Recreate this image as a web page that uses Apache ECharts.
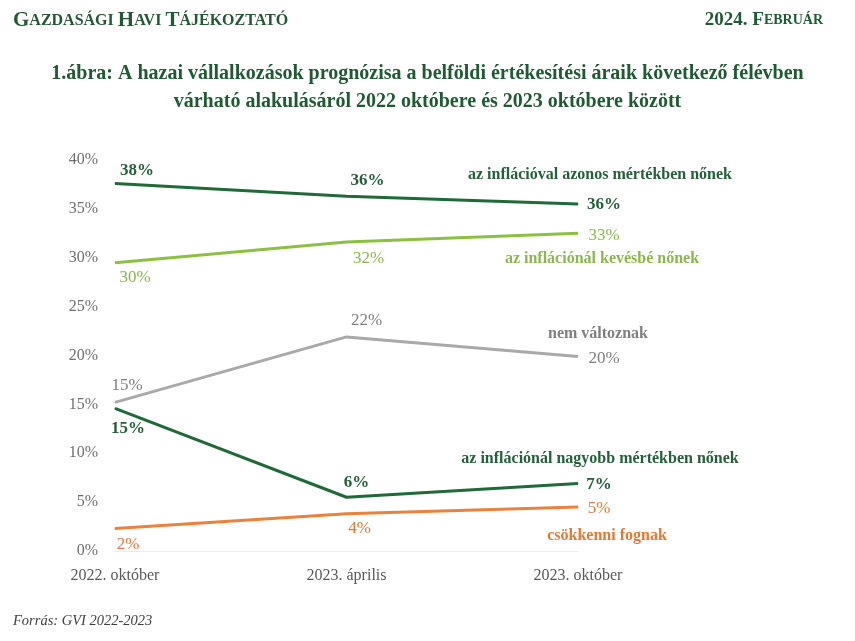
<!DOCTYPE html>
<html><head><meta charset="utf-8">
<script src="https://cdn.jsdelivr.net/npm/echarts@6/dist/echarts.min.js"></script>
<style>html,body{margin:0;padding:0;background:#fff}#c{width:855px;height:641px}</style>
</head><body><div id="c"></div>
<script>
const categories = ['2022. október', '2023. április', '2023. október'];
const seriesNames = ['az inflációval azonos mértékben nőnek', 'az inflációnál kevésbé nőnek', 'nem változnak', 'az inflációnál nagyobb mértékben nőnek', 'csökkenni fognak'];
const azonos = [37.6, 36.3, 35.5];
const kevesbe = [29.5, 31.6, 32.5];
const nemValtoz = [15.2, 21.9, 19.9];
const nagyobb = [14.6, 5.5, 6.9];
const csokken = [2.3, 3.8, 4.5];
const yTicks = [0, 5, 10, 15, 20, 25, 30, 35, 40];

const SERIF = '"Liberation Serif", "DejaVu Serif", serif';
const lineColors = ['#1f6a37', '#8cc043', '#a9a9a9', '#1f6a37', '#e8823c'];
const textColors = ['#24603a', '#8ab84e', '#7f7f7f', '#24603a', '#e07a36'];
// label offsets [dx,dy] per point (style only)
const offs = [
  [[22,-13],[21,-16],[26,1]],
  [[20,15],[22,16],[26,2]],
  [[12,-17],[20,-16],[26,2]],
  [[13,20],[10,-15],[21,1]],
  [[13,16],[13,15],[21,2]]
];
const nameOffs = [[22,-29],[24,26],[20,-23],[22,-25],[29,29]];
const allData = [azonos, kevesbe, nemValtoz, nagyobb, csokken];

const series = allData.map((vals, si) => ({
  name: seriesNames[si],
  type: 'line',
  data: vals.map((v, i) => ({
    value: v,
    label: {show: true, position: 'inside', offset: offs[si][i]}
  })),
  symbol: 'circle', symbolSize: 1,
  itemStyle: {color: lineColors[si]},
  lineStyle: {color: lineColors[si], width: 3},
  label: {
    formatter: p => Math.round(p.value) + '%',
    color: textColors[si], fontFamily: SERIF, fontSize: 17,
    fontWeight: (si === 0 || si === 3) ? 'bold' : 'normal'
  },
  markPoint: {
    symbol: 'circle', symbolSize: 1,
    itemStyle: {color: 'rgba(0,0,0,0)'},
    data: [{coord: [categories.length - 1, vals[vals.length - 1]], name: seriesNames[si]}],
    label: {
      show: true, position: 'inside', offset: nameOffs[si],
      formatter: p => p.name,
      color: textColors[si], fontFamily: SERIF, fontSize: 16, fontWeight: 'bold'
    }
  },
  z: 3
}));

const chart = echarts.init(document.getElementById('c'), null, {renderer: 'canvas'});
chart.setOption({
  animation: false,
  backgroundColor: '#fff',
  grid: {left: 115, right: 277, top: 160, bottom: 90, containLabel: false},
  xAxis: {
    type: 'category', data: categories, boundaryGap: false,
    axisLine: {show: true, lineStyle: {color: '#ececec', width: 1}},
    axisTick: {show: false},
    axisLabel: {color: '#595959', fontFamily: SERIF, fontSize: 16, margin: 17}
  },
  yAxis: {
    type: 'value', min: yTicks[0], max: yTicks[yTicks.length - 1], interval: yTicks[1] - yTicks[0],
    splitLine: {show: false}, axisLine: {show: false}, axisTick: {show: false},
    axisLabel: {formatter: '{value}%', color: '#6f6f6f', fontFamily: SERIF, fontSize: 16, margin: 17}
  },
  series: series,
  graphic: [
    {type: 'text', left: 13, top: 10, style: {
      text: '{b|G}{s|AZDASÁGI }{b|H}{s|AVI }{b|T}{s|ÁJÉKOZTATÓ}',
      rich: {
        b: {fontFamily: SERIF, fontSize: 21, fill: '#1f5a32', fontWeight: 'bold'},
        s: {fontFamily: SERIF, fontSize: 16, fill: '#1f5a32', fontWeight: 'bold'}
      }
    }},
    {type: 'text', right: 32, top: 11, style: {
      text: '{b|2024. F}{s|EBRUÁR}',
      rich: {
        b: {fontFamily: SERIF, fontSize: 19, fill: '#1f5a32', fontWeight: 'bold'},
        s: {fontFamily: SERIF, fontSize: 14, fill: '#1f5a32', fontWeight: 'bold'}
      }
    }},
    {type: 'text', left: 'center', top: 60, style: {
      text: '1.ábra: A hazai vállalkozások prognózisa a belföldi értékesítési áraik következő félévben\nvárható alakulásáról 2022 októbere és 2023 októbere között',
      textAlign: 'center', fontFamily: SERIF, fontSize: 20, fontWeight: 'bold', fill: '#1f5a32', lineHeight: 28
    }},
    {type: 'text', left: 13, top: 614, style: {
      text: 'Forrás: GVI 2022-2023', fontFamily: SERIF, fontSize: 14.5, fontStyle: 'italic', fill: '#404040'
    }}
  ]
});
</script></body></html>
